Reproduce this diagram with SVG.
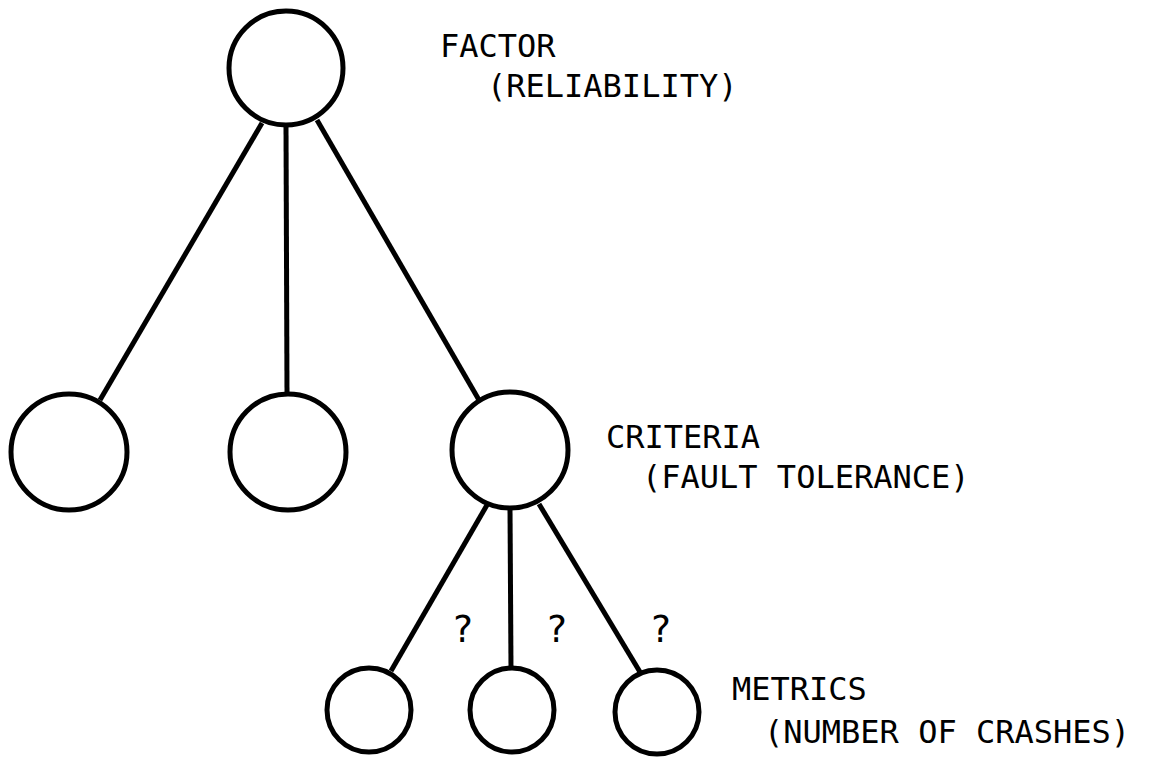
<svg xmlns="http://www.w3.org/2000/svg" width="1153" height="758" viewBox="0 0 1153 758">
<style>
.node{fill:none;stroke:#000;stroke-width:5}
.edge{stroke:#000;stroke-width:5;stroke-linecap:butt}
.lbl{font-family:"DejaVu Sans Mono","Liberation Mono",monospace;font-size:32px;fill:#000}
.q{font-family:"DejaVu Sans","Liberation Sans",sans-serif;font-size:37px;fill:#000}
</style>
<rect width="1153" height="758" fill="#fff"/>
<g id="connectors">
<line class="edge" x1="262" y1="123" x2="100" y2="400"/>
<line class="edge" x1="286" y1="126" x2="287" y2="394"/>
<line class="edge" x1="317" y1="120" x2="479" y2="400"/>
<line class="edge" x1="487" y1="505" x2="391" y2="671"/>
<line class="edge" x1="510" y1="508" x2="511" y2="668"/>
<line class="edge" x1="539" y1="504" x2="640" y2="672"/>
</g>
<g id="factor"><circle class="node" cx="286" cy="68" r="57"/>
<text class="lbl" x="440" y="57">FACTOR</text><text class="lbl" x="487" y="97">(RELIABILITY)</text></g>
<g id="criterion1"><circle class="node" cx="69" cy="452" r="58"/></g>
<g id="criterion2"><circle class="node" cx="288" cy="452" r="58"/></g>
<g id="criterion3"><circle class="node" cx="510" cy="450" r="58"/>
<text class="lbl" x="606" y="448">CRITERIA</text><text class="lbl" x="642" y="488">(FAULT TOLERANCE)</text></g>
<g id="metric1"><circle class="node" cx="369" cy="710" r="42"/></g>
<g id="metric2"><circle class="node" cx="512" cy="710" r="42"/></g>
<g id="metric3"><circle class="node" cx="657" cy="712" r="42"/>
<text class="lbl" x="732" y="700">METRICS</text><text class="lbl" x="764" y="743">(NUMBER OF CRASHES)</text></g>
<g id="questions">
<text class="q" x="463" y="642" text-anchor="middle">?</text>
<text class="q" x="557" y="642" text-anchor="middle">?</text>
<text class="q" x="661" y="642" text-anchor="middle">?</text>
</g>
</svg>
